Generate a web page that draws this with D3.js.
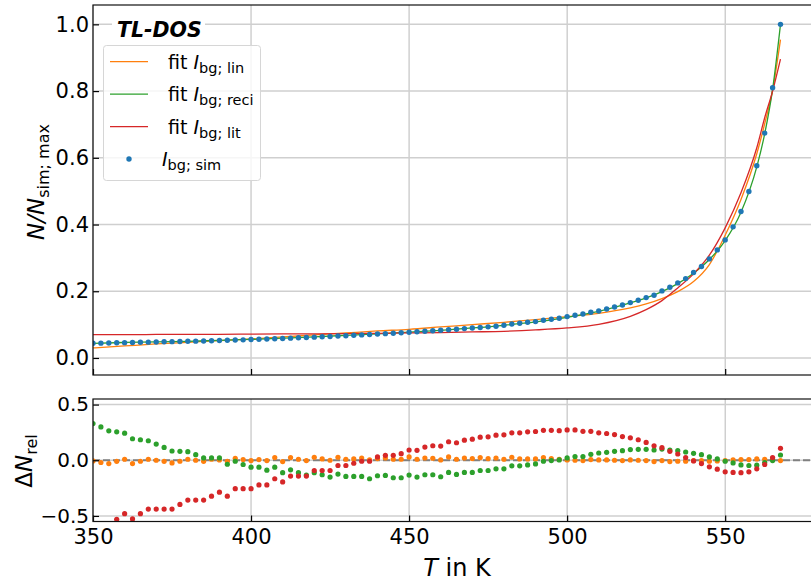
<!DOCTYPE html>
<html lang="en">
<head>
<meta charset="UTF-8">
<title>TL-DOS fit</title>
<script src="https://d3js.org/d3.v7.min.js"></script>
<style>
    body { margin: 0; background: white; }
    svg { display: block; font-family: "DejaVu Sans", sans-serif; }
</style>
</head>
<body>
<svg width="811" height="583"></svg>
<script>
// temperatures of the simulated points (K)
const temps = [350, 352.5, 355, 357.5, 360, 362.5, 365, 367.5, 370, 372.5,
    375, 377.5, 380, 382.5, 385, 387.5, 390, 392.5, 395, 397.5,
    400, 402.5, 405, 407.5, 410, 412.5, 415, 417.5, 420, 422.5,
    425, 427.5, 430, 432.5, 435, 437.5, 440, 442.5, 445, 447.5,
    450, 452.5, 455, 457.5, 460, 462.5, 465, 467.5, 470, 472.5,
    475, 477.5, 480, 482.5, 485, 487.5, 490, 492.5, 495, 497.5,
    500, 502.5, 505, 507.5, 510, 512.5, 515, 517.5, 520, 522.5,
    525, 527.5, 530, 532.5, 535, 537.5, 540, 542.5, 545, 547.5,
    550, 552.5, 555, 557.5, 560, 562.5, 565, 567.5];

// I_bg;sim normalised
const simVals = [.0440, .0445, .0450, .0455, .0460, .0465, .0470, .0475, .0480, .0485,
    .0490, .0495, .0500, .0505, .0511, .0517, .0523, .0530, .0537, .0544,
    .0552, .0560, .0568, .0577, .0586, .0595, .0605, .0615, .0625, .0635,
    .0646, .0657, .0668, .0680, .0692, .0704, .0717, .0730, .0743, .0757,
    .0771, .0785, .0800, .0815, .0831, .0847, .0863, .0880, .0897, .0915,
    .0933, .0952, .0980, .1020, .1040, .1070, .1090, .1130, .1160, .1190,
    .1240, .1280, .1320, .1370, .1410, .1470, .1530, .1590, .1660, .1730,
    .1810, .1880, .2010, .2120, .2250, .2380, .2560, .2740, .2970, .3240,
    .3540, .3930, .4390, .4990, .5760, .6740, .8100, 1.000];

// fit curves
const fitT = [350, 360, 370, 380, 390, 400, 410, 420, 430, 440, 450, 460, 470, 480, 490,
    500, 510, 520, 525, 530, 535, 540, 545, 550, 555, 560, 562.5, 565, 567.5];
const fitLin = [.030, .036, .042, .047, .052, .057, .063, .069, .075, .081, .086, .093, .100, .107, .115,
    .124, .134, .150, .162, .178, .199, .229, .280, .368, .475, .612, .702, .802, .954];
const fitReci = [.044, .0465, .0485, .050, .053, .0555, .0595, .0635, .068, .0725, .0775, .083, .090, .098, .108,
    .122, .140, .165, .180, .199, .223, .254, .295, .352, .437, .573, .672, .805, 1.0];
const fitLit = [.070, .070, .0705, .071, .071, .0715, .072, .0725, .073, .074, .075, .076, .078, .080, .084,
    .090, .101, .125, .145, .172, .210, .252, .308, .390, .495, .630, .720, .800, .896];

// relative deviations
const resLin = [-0.006, -0.020, -0.030, -0.010, 0.009, -0.030, -0.009, 0.009, 0.000, -0.010,
    -0.024, -0.009, 0.009, 0.000, -0.010, 0.009, 0.003, -0.010, 0.018, 0.006,
    -0.003, 0.006, -0.003, 0.024, -0.012, 0.024, 0.009, -0.003, 0.027, 0.012,
    0.000, 0.027, 0.009, 0.012, 0.020, 0.003, 0.015, 0.020, 0.009, 0.009,
    0.030, 0.009, 0.020, 0.018, 0.003, 0.030, 0.009, 0.020, 0.015, 0.024,
    0.015, 0.020, 0.009, 0.027, 0.012, 0.012, 0.012, 0.024, 0.015, 0.009,
    0.003, 0.000, -0.003, 0.006, 0.003, 0.003, 0.000, -0.003, 0.003, 0.000,
    -0.003, -0.012, -0.003, -0.012, -0.009, -0.009, -0.003, -0.003, -0.009, -0.006,
    -0.003, 0.003, 0.006, 0.006, 0.012, 0.009, 0.009, -0.003];
const resReci = [0.329, 0.299, 0.264, 0.255, 0.243, 0.193, 0.184, 0.175, 0.145, 0.115,
    0.083, 0.080, 0.077, 0.050, 0.021, 0.021, 0.021, -0.036, -0.009, -0.038,
    -0.062, -0.062, -0.089, -0.062, -0.112, -0.086, -0.112, -0.133, -0.112, -0.130,
    -0.151, -0.124, -0.145, -0.145, -0.145, -0.166, -0.139, -0.136, -0.157, -0.157,
    -0.133, -0.151, -0.130, -0.130, -0.148, -0.109, -0.127, -0.109, -0.109, -0.092,
    -0.092, -0.077, -0.077, -0.050, -0.050, -0.042, -0.033, -0.009, -0.003, 0.003,
    0.021, 0.033, 0.033, 0.053, 0.065, 0.071, 0.080, 0.086, 0.096, 0.098,
    0.098, 0.092, 0.100, 0.092, 0.086, 0.074, 0.062, 0.050, 0.030, 0.012,
    -0.009, -0.024, -0.042, -0.047, -0.044, -0.020, -0.003, 0.047];
const resLit = [-0.66, -0.62, -0.58, -0.530, -0.480, -0.527, -0.480, -0.438, -0.438, -0.438,
    -0.438, -0.397, -0.358, -0.358, -0.358, -0.323, -0.287, -0.323, -0.255, -0.255,
    -0.255, -0.222, -0.222, -0.166, -0.195, -0.142, -0.142, -0.142, -0.092, -0.092,
    -0.092, -0.047, -0.047, -0.027, -0.009, -0.009, 0.030, 0.044, 0.044, 0.059,
    0.092, 0.089, 0.118, 0.130, 0.127, 0.166, 0.157, 0.180, 0.189, 0.207,
    0.210, 0.225, 0.228, 0.246, 0.246, 0.255, 0.258, 0.269, 0.269, 0.266,
    0.272, 0.272, 0.260, 0.260, 0.246, 0.240, 0.231, 0.213, 0.201, 0.184,
    0.160, 0.130, 0.113, 0.080, 0.056, 0.024, -0.006, -0.030, -0.059, -0.080,
    -0.104, -0.109, -0.112, -0.104, -0.077, -0.038, 0.024, 0.107];

const xTicks = [350, 400, 450, 500, 550];
const yTopTicks = [0, 0.2, 0.4, 0.6, 0.8, 1.0];
const yBotTicks = [-0.5, 0, 0.5];

const colors = {lin: "#ff7f0e", reci: "#2ca02c", lit: "#d62728", sim: "#1f77b4"};

let svg = d3.select("svg");
const left = 93, right = 820;
const top1 = 5, bot1 = 375, top2 = 399, bot2 = 521.5;

let x = d3.scaleLinear().domain([350, 580]).range([left, right]);
let yTop = d3.scaleLinear().domain([-0.051, 1.058]).range([bot1, top1]);
let yBot = d3.scaleLinear().domain([-0.55, 0.55]).range([bot2, top2]);

const fmt1 = d3.format(".1f");
const tickFmt = v => fmt1(v).replace("-", "\u2212");

// clip paths
let defs = svg.append("defs");
defs.append("clipPath").attr("id", "clipTop").append("rect")
    .attr("x", left).attr("y", top1).attr("width", right - left).attr("height", bot1 - top1);
defs.append("clipPath").attr("id", "clipBot").append("rect")
    .attr("x", left).attr("y", top2).attr("width", right - left).attr("height", bot2 - top2);

function drawGrid(yScale, yTicks, y0, y1) {
    let g = svg.append("g");
    g.selectAll(".vg").data(xTicks).enter().append("line")
        .attr("x1", d => x(d)).attr("x2", d => x(d))
        .attr("y1", y0).attr("y2", y1)
        .attr("stroke", "#b8b8b8").attr("stroke-width", 1);
    g.selectAll(".hg").data(yTicks).enter().append("line")
        .attr("x1", left).attr("x2", right)
        .attr("y1", d => yScale(d)).attr("y2", d => yScale(d))
        .attr("stroke", "#cfcfcf").attr("stroke-width", 1.5);
}

function drawFrame(yScale, yTicks, y0, y1, showX, ySize) {
    let g = svg.append("g");
    // y axis, ticks inward
    let ya = g.append("g").attr("transform", `translate(${left},0)`)
        .call(d3.axisLeft(yScale).tickValues(yTicks).tickSize(-6).tickPadding(4).tickFormat(tickFmt));
    ya.select(".domain").remove();
    ya.selectAll("line").attr("stroke", "black").attr("stroke-width", 1.2);
    ya.selectAll("text").attr("font-size", ySize).attr("fill", "black")
        .attr("font-family", "DejaVu Sans, sans-serif");
    // x axis, ticks inward
    let xa = g.append("g").attr("transform", `translate(0,${y1})`)
        .call(d3.axisBottom(x).tickValues(xTicks).tickSize(-6).tickPadding(8)
            .tickFormat(showX ? d3.format("d") : ""));
    xa.select(".domain").remove();
    xa.selectAll("line").attr("stroke", "black").attr("stroke-width", 1.2);
    xa.selectAll("text").attr("font-size", "21px").attr("fill", "black")
        .attr("font-family", "DejaVu Sans, sans-serif");
    // spines
    g.append("rect").attr("x", left).attr("y", y0)
        .attr("width", right - left).attr("height", y1 - y0)
        .attr("fill", "none").attr("stroke", "#111").attr("stroke-width", 1.2);
}

// ---- top panel ----
drawGrid(yTop, yTopTicks, top1, bot1);

let topPlot = svg.append("g").attr("clip-path", "url(#clipTop)");
let fitLine = d3.line().x(d => x(d[0])).y(d => yTop(d[1])).curve(d3.curveMonotoneX);
[[fitLin, colors.lin], [fitReci, colors.reci], [fitLit, colors.lit]].forEach(function (f) {
    topPlot.append("path")
        .attr("d", fitLine(fitT.map((t, i) => [t, f[0][i]])))
        .attr("fill", "none").attr("stroke", f[1]).attr("stroke-width", 1.3);
});
topPlot.selectAll(".sim").data(temps).enter().append("circle")
    .attr("cx", d => x(d)).attr("cy", (d, i) => yTop(simVals[i]))
    .attr("r", 2.7).attr("fill", colors.sim);

drawFrame(yTop, yTopTicks, top1, bot1, false, "21px");

// ---- bottom panel ----
drawGrid(yBot, yBotTicks, top2, bot2);

let botPlot = svg.append("g").attr("clip-path", "url(#clipBot)");
botPlot.append("line")
    .attr("x1", left).attr("x2", right)
    .attr("y1", yBot(0)).attr("y2", yBot(0))
    .attr("stroke", "#808080").attr("stroke-width", 2).attr("stroke-dasharray", "7,3");
[[resLin, colors.lin], [resReci, colors.reci], [resLit, colors.lit]].forEach(function (r) {
    botPlot.append("g").selectAll("circle").data(temps).enter().append("circle")
        .attr("cx", d => x(d)).attr("cy", (d, i) => yBot(r[0][i]))
        .attr("r", 2.6).attr("fill", r[1]);
});

drawFrame(yBot, yBotTicks, top2, bot2, true, "20px");

// ---- axis labels ----
let yl = svg.append("text")
    .attr("transform", `translate(44,182) rotate(-90)`)
    .attr("text-anchor", "middle").attr("font-size", "23px").attr("fill", "black");
yl.append("tspan").attr("font-style", "italic").text("N/N");
yl.append("tspan").attr("font-size", "16px").attr("dy", 5).text("sim; max");

let yl2 = svg.append("text")
    .attr("transform", `translate(32,461) rotate(-90)`)
    .attr("text-anchor", "middle").attr("font-size", "23px").attr("fill", "black");
yl2.append("tspan").text("\u0394");
yl2.append("tspan").attr("font-style", "italic").text("N");
yl2.append("tspan").attr("font-size", "16px").attr("dy", 5).text("rel");

let xl = svg.append("text")
    .attr("x", 457).attr("y", 576)
    .attr("text-anchor", "middle").attr("font-size", "24px").attr("fill", "black");
xl.append("tspan").attr("font-style", "italic").text("T");
xl.append("tspan").text(" in K");

// ---- legend ----
svg.append("rect").attr("x", 112).attr("y", 13).attr("width", 93).attr("height", 28).attr("fill", "white");
svg.append("text").attr("x", 117).attr("y", 37)
    .attr("font-size", "20.5px").attr("font-weight", "bold").attr("font-style", "italic")
    .attr("fill", "black").text("TL-DOS");

let leg = svg.append("g");
leg.append("rect").attr("x", 103.5).attr("y", 45.5).attr("width", 157).attr("height", 135)
    .attr("rx", 3).attr("fill", "white").attr("fill-opacity", 0.8)
    .attr("stroke", "#d6d6d6").attr("stroke-width", 1);

const legItems = [
    {sub: "bg; lin", color: colors.lin},
    {sub: "bg; reci", color: colors.reci},
    {sub: "bg; lit", color: colors.lit}
];
legItems.forEach(function (d, i) {
    let cy = 61.7 + i * 32.5;
    leg.append("line").attr("x1", 110).attr("x2", 148).attr("y1", cy).attr("y2", cy)
        .attr("stroke", d.color).attr("stroke-width", 1.3);
    let t = leg.append("text").attr("x", 168).attr("y", cy + 7)
        .attr("font-size", "19px").attr("fill", "black");
    t.append("tspan").text("fit ");
    t.append("tspan").attr("font-style", "italic").text("I");
    t.append("tspan").attr("font-size", "14.5px").attr("dy", 4).text(d.sub);
});
leg.append("circle").attr("cx", 129).attr("cy", 159).attr("r", 2.7).attr("fill", colors.sim);
let ts = leg.append("text").attr("x", 162).attr("y", 166).attr("font-size", "19px").attr("fill", "black");
ts.append("tspan").attr("font-style", "italic").text("I");
ts.append("tspan").attr("font-size", "14.5px").attr("dy", 4).text("bg; sim");
</script>
</body>
</html>
